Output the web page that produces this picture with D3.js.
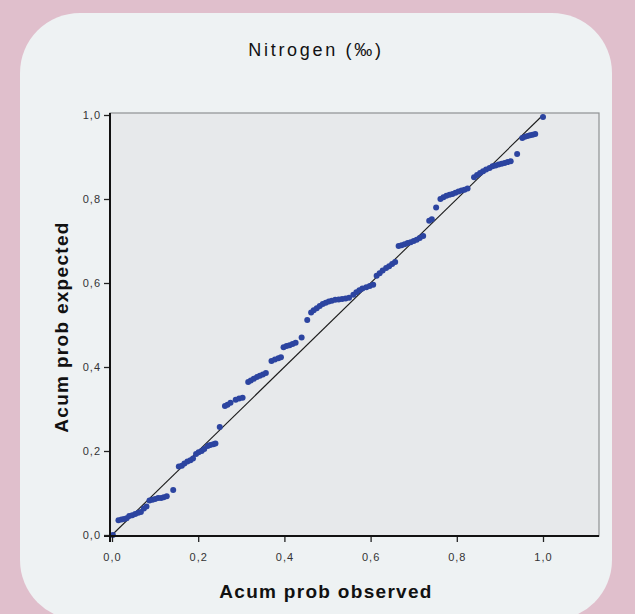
<!DOCTYPE html>
<html>
<head>
<meta charset="utf-8">
<script src="https://cdn.jsdelivr.net/npm/d3@7"></script>
<style>
  html, body { margin: 0; padding: 0; background: #e0bfcc; }
  svg { display: block; }
</style>
</head>
<body>
<svg id="chart" width="635" height="614"></svg>
<script>
// ---- Data ----
const title = "Nitrogen (‰)";
const xLabel = "Acum prob observed";
const yLabel = "Acum prob expected";
const xTicks = [0, 0.2, 0.4, 0.6, 0.8, 1.0];
const yTicks = [0, 0.2, 0.4, 0.6, 0.8, 1.0];
const tickLabels = ["0,0", "0,2", "0,4", "0,6", "0,8", "1,0"];
const observed = [
  0.002, 0.015, 0.022, 0.028, 0.034, 0.040, 0.047, 0.054, 0.061, 0.067,
  0.074, 0.080, 0.087, 0.094, 0.100, 0.107, 0.114, 0.120, 0.127, 0.142,
  0.155, 0.162, 0.168, 0.175, 0.182, 0.188, 0.195, 0.201, 0.208, 0.214,
  0.222, 0.228, 0.235, 0.240, 0.250, 0.262, 0.268, 0.275, 0.287, 0.295,
  0.303, 0.316, 0.322, 0.329, 0.336, 0.343, 0.350, 0.357, 0.370, 0.378,
  0.386, 0.392, 0.398, 0.405, 0.412, 0.419, 0.426, 0.440, 0.453, 0.462,
  0.468, 0.475, 0.482, 0.489, 0.496, 0.503, 0.510, 0.518, 0.526, 0.534,
  0.542, 0.550, 0.560, 0.567, 0.574, 0.581, 0.590, 0.598, 0.606, 0.614,
  0.621, 0.628, 0.636, 0.643, 0.650, 0.657, 0.665, 0.672, 0.679, 0.686,
  0.693, 0.700, 0.707, 0.714, 0.722, 0.736, 0.742, 0.752, 0.762, 0.769,
  0.776, 0.783, 0.790, 0.797, 0.804, 0.811, 0.818, 0.825, 0.840, 0.847,
  0.854, 0.861, 0.868, 0.876, 0.883, 0.890, 0.897, 0.904, 0.911, 0.918,
  0.925, 0.940, 0.952, 0.958, 0.964, 0.970, 0.976, 0.982, 1.000
];
const expected = [
  0.000, 0.035, 0.037, 0.038, 0.040, 0.045, 0.047, 0.050, 0.053, 0.055,
  0.063, 0.068, 0.082, 0.084, 0.086, 0.088, 0.088, 0.090, 0.092, 0.107,
  0.163, 0.165, 0.170, 0.175, 0.178, 0.182, 0.193, 0.197, 0.200, 0.205,
  0.212, 0.214, 0.216, 0.218, 0.257, 0.307, 0.310, 0.315, 0.322, 0.325,
  0.327, 0.364, 0.368, 0.372, 0.376, 0.379, 0.382, 0.386, 0.414, 0.418,
  0.421, 0.423, 0.447, 0.450, 0.452, 0.455, 0.458, 0.470, 0.512, 0.530,
  0.535, 0.540, 0.545, 0.550, 0.553, 0.556, 0.558, 0.560, 0.561, 0.562,
  0.563, 0.565, 0.572, 0.578, 0.583, 0.587, 0.590, 0.593, 0.596, 0.617,
  0.623, 0.630, 0.636, 0.640, 0.645, 0.650, 0.688, 0.690, 0.692, 0.695,
  0.697, 0.700, 0.703, 0.707, 0.712, 0.748, 0.752, 0.780, 0.800, 0.804,
  0.808, 0.810, 0.812, 0.815, 0.818, 0.820, 0.822, 0.825, 0.852, 0.857,
  0.862, 0.866, 0.870, 0.874, 0.878, 0.880, 0.882, 0.884, 0.886, 0.888,
  0.890, 0.907, 0.945, 0.948, 0.950, 0.952, 0.953, 0.955, 0.995
];
const diagonal = [0, 1];

// ---- Layout ----
const svg = d3.select("#chart");
const W = 635, H = 614;
const plot = { left: 110, top: 113, right: 599, bottom: 536 };

const x = d3.scaleLinear().domain([0, 1]).range([112, 543]);
const y = d3.scaleLinear().domain([0, 1]).range([535, 115]);

// card
svg.append("rect").attr("x", 0).attr("y", 0).attr("width", W).attr("height", H).attr("fill", "#e0bfcc");
svg.append("rect")
  .attr("x", 20).attr("y", 13).attr("width", 592).attr("height", 607)
  .attr("rx", 60).attr("ry", 60)
  .attr("fill", "#eef2f3");

// plot background + frame
svg.append("rect")
  .attr("x", plot.left).attr("y", plot.top)
  .attr("width", plot.right - plot.left).attr("height", plot.bottom - plot.top)
  .attr("fill", "#e7e9eb")
  .attr("stroke", "#8f9193").attr("stroke-width", 1.2);

// diagonal reference line
svg.append("line")
  .attr("x1", x(diagonal[0])).attr("y1", y(diagonal[0]))
  .attr("x2", x(diagonal[1])).attr("y2", y(diagonal[1]))
  .attr("stroke", "#1a1a1a").attr("stroke-width", 1.1);

// points
const pts = observed.map((o, i) => ({ o, e: expected[i] }));
svg.append("g").selectAll("circle").data(pts).join("circle")
  .attr("cx", d => x(d.o)).attr("cy", d => y(d.e))
  .attr("r", 3)
  .attr("fill", "#2c44a0");

// axes
const fmt = (d, i) => tickLabels[i];
const xAxis = d3.axisBottom(x).tickValues(xTicks).tickFormat(fmt).tickSize(6).tickPadding(11);
const yAxis = d3.axisLeft(y).tickValues(yTicks).tickFormat(fmt).tickSize(6).tickPadding(3);

const gx = svg.append("g").attr("transform", `translate(0,${plot.bottom})`).call(xAxis);
gx.select(".domain").remove();
svg.append("line").attr("x1", plot.left - 6).attr("x2", plot.right)
  .attr("y1", plot.bottom).attr("y2", plot.bottom)
  .attr("stroke", "#111").attr("stroke-width", 2);

const gy = svg.append("g").attr("transform", `translate(${plot.left},0)`).call(yAxis);
gy.select(".domain").remove();
svg.append("line").attr("x1", plot.left).attr("x2", plot.left)
  .attr("y1", plot.top).attr("y2", plot.bottom + 6)
  .attr("stroke", "#111").attr("stroke-width", 2);

[gx, gy].forEach(g => {
  g.selectAll(".tick line").attr("stroke", "#222").attr("stroke-width", 1.3);
  g.selectAll(".tick text")
    .attr("font-family", "Liberation Sans, Arial, sans-serif")
    .attr("font-size", 11).attr("fill", "#333").attr("letter-spacing", 1);
});

// title
svg.append("text")
  .attr("x", 316).attr("y", 56)
  .attr("text-anchor", "middle")
  .attr("font-family", "Liberation Sans, Arial, sans-serif")
  .attr("font-size", 18).attr("letter-spacing", 2.7)
  .attr("fill", "#111")
  .text(title);

// axis titles
svg.append("text")
  .attr("x", 326).attr("y", 598)
  .attr("text-anchor", "middle")
  .attr("font-family", "Liberation Sans, Arial, sans-serif")
  .attr("font-weight", "bold")
  .attr("font-size", 19).attr("letter-spacing", 1.3)
  .attr("fill", "#111")
  .text(xLabel);

svg.append("text")
  .attr("transform", "translate(68,327) rotate(-90)")
  .attr("text-anchor", "middle")
  .attr("font-family", "Liberation Sans, Arial, sans-serif")
  .attr("font-weight", "bold")
  .attr("font-size", 19).attr("letter-spacing", 1.3)
  .attr("fill", "#111")
  .text(yLabel);
</script>
</body>
</html>
